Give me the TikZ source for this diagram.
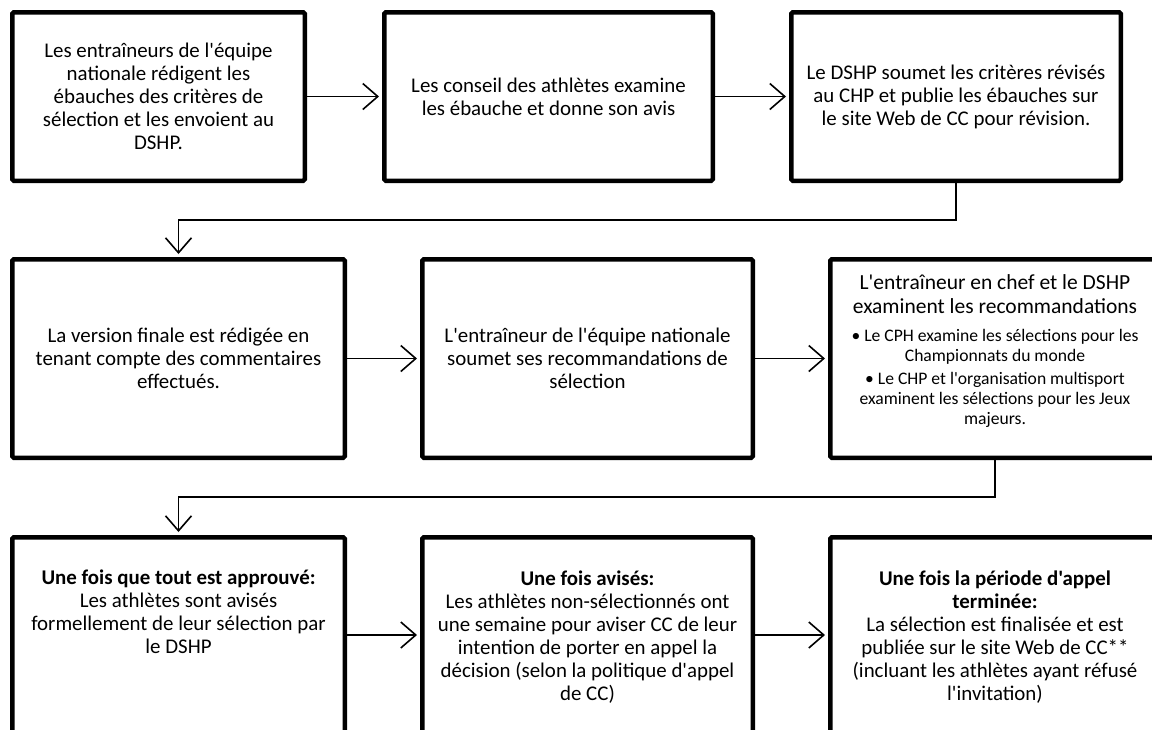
\documentclass[tikz,border=0pt]{standalone}
\usepackage{fontspec}
\newfontfamily\calib{Carlito}
\usetikzlibrary{arrows.meta}
\begin{document}
\begin{tikzpicture}[x=1pt,y=-1pt,
  box/.style={draw, line width=4.5pt, rounded corners=1.5pt, inner sep=0pt, align=center,
    font=\calib\fontsize{20.9}{23}\selectfont},
  txt/.style={align=center, inner sep=0pt, font=\calib\fontsize{20.9}{23}\selectfont},
  conn/.style={line width=1.6pt, -{Straight Barb[length=15pt,width=26pt,line width=1.6pt]}, shorten >=3pt}
]
\useasboundingbox (0,0) rectangle (1152,729);
\clip (0,0) rectangle (1152,729);
% row 1
\node[box, minimum width=292.5, minimum height=168.5] (b1) at (158.5,96.5)
  {Les entraîneurs de l'équipe\\nationale rédigent les\\ébauches des critères de\\sélection et les envoient au\\DSHP.};
\node[box, minimum width=328.5, minimum height=168.5] (b2) at (548.5,96.5)
  {Les conseil des athlètes examine\\les ébauche et donne son avis};
\node[box, minimum width=329.5, minimum height=168.5] (b3) at (956,96.5)
  {Le DSHP soumet les critères révisés\\au CHP et publie les ébauches sur\\le site Web de CC pour révision.};
% row 2
\node[box, minimum width=332.5, minimum height=198.5] (b4) at (178.5,358.5)
  {La version finale est rédigée en\\tenant compte des commentaires\\effectués.};
\node[box, minimum width=330.5, minimum height=198.5] (b5) at (587.5,358.5)
  {L'entraîneur de l'équipe nationale\\soumet ses recommandations de\\sélection};
\node[box, minimum width=329.5, minimum height=198.5] (b6) at (995,358.5) {};
\node[txt, font=\calib\fontsize{21.5}{24.5}\selectfont] (t6a) at (995,294)
  {L'entraîneur en chef et le DSHP\\examinent les recommandations};
\node[txt, font=\calib\fontsize{17.6}{20}\selectfont] (t6b) at (995,378)
  {• Le CPH examine les sélections pour les\\Championnats du monde\\[3pt]• Le CHP et l'organisation multisport\\examinent les sélections pour les Jeux\\majeurs.};
% row 3
\node[box, minimum width=332.5, minimum height=195.5] (b7) at (178.5,635) {};
\node[box, minimum width=330.5, minimum height=195.5] (b8) at (587.5,635) {};
\node[box, minimum width=329.5, minimum height=195.5] (b9) at (995,635) {};
\node[txt] (t7) at (178.5,612)
  {\textbf{Une fois que tout est approuvé:}\\Les athlètes sont avisés\\formellement de leur sélection par\\le DSHP};
\node[txt] (t8) at (587.5,637)
  {\textbf{Une fois avisés:}\\Les athlètes non-sélectionnés ont\\une semaine pour aviser CC de leur\\intention de porter en appel la\\décision (selon la politique d'appel\\de CC)};
\node[txt] (t9) at (995,637)
  {\textbf{Une fois la période d'appel}\\\textbf{terminée:}\\La sélection est finalisée et est\\publiée sur le site Web de CC**\\(incluant les athlètes ayant réfusé\\l'invitation)};
% connectors
\draw[conn] (b1.east) -- (b2.west);
\draw[conn] (b2.east) -- (b3.west);
\draw[conn] (b3.south) -- ++(0,37) -| (b4.north);
\draw[conn] (b4.east) -- (b5.west);
\draw[conn] (b5.east) -- (b6.west);
\draw[conn] (b6.south) -- ++(0,37) -| (b7.north);
\draw[conn] (b7.east) -- (b8.west);
\draw[conn] (b8.east) -- (b9.west);
\end{tikzpicture}
\end{document}
